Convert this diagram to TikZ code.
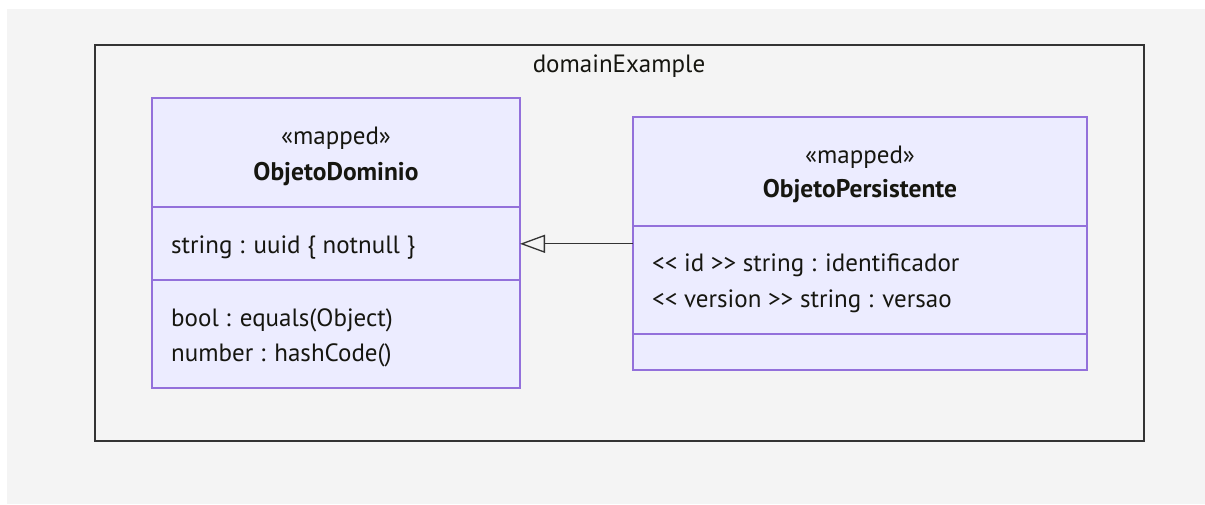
\documentclass[tikz,border=0pt]{standalone}
\usepackage{fontspec}
\setmainfont{PT Sans}
\usetikzlibrary{arrows.meta}
\definecolor{pagebg}{HTML}{F4F4F4}
\definecolor{classfill}{HTML}{ECECFF}
\definecolor{classline}{HTML}{9370DB}
\definecolor{ink}{HTML}{161610}
\definecolor{framecol}{HTML}{333333}
\tikzset{
  labelfont/.style={font=\fontsize{25}{30}\selectfont},
  compartment/.style={draw=classline, fill=classfill, line width=1.8pt,
    anchor=north west, inner sep=0pt, outer sep=0pt},
  member/.style={anchor=base west, inner sep=0pt, text=ink, labelfont},
  stereo/.style={anchor=base, inner sep=0pt, text=ink, labelfont},
  classname/.style={anchor=base, inner sep=0pt, text=ink,
    font=\fontsize{25.5}{30}\selectfont\bfseries},
  nsframe/.style={draw=framecol, line width=1.7pt, anchor=north west,
    inner sep=0pt, outer sep=0pt},
  nstitle/.style={anchor=base, inner sep=0pt, text=ink, labelfont},
  inherit/.style={draw=framecol, line width=1.1pt,
    -{Triangle[open, length=25pt, width=18pt, line width=1.3pt]}}
}
\begin{document}
\begin{tikzpicture}[x=1pt, y=-1pt]
\useasboundingbox (0,0) rectangle (1205,504);
\fill[white] (0,0) rectangle (1205,504);
\fill[pagebg] (7,9) rectangle (1205,504);

% namespace frame
\node[nsframe, minimum width=1049pt, minimum height=396pt] (ns) at (95,45) {};
\node[nstitle] (nstitle) at (619,72.5) {domainExample};

% class ObjetoDominio
\node[compartment, minimum width=368pt, minimum height=109.3pt] (d1head) at (152,98) {};
\node[compartment, minimum width=368pt, minimum height=73pt] (d1attr) at (152,207.3) {};
\node[compartment, minimum width=368pt, minimum height=107.7pt] (d1meth) at (152,280.3) {};
\node[stereo] (d1stereo) at (336,144.3) {«mapped»};
\node[classname] (d1name) at (336,180) {ObjetoDominio};
\node[member] (d1a1) at (171,253.3) {string : uuid \{ notnull \}};
\node[member] (d1m1) at (171,326) {bool : equals(Object)};
\node[member] (d1m2) at (171,361.7) {number : hashCode()};

% class ObjetoPersistente
\node[compartment, minimum width=454.6pt, minimum height=109.3pt] (p2head) at (632.7,116.7) {};
\node[compartment, minimum width=454.6pt, minimum height=108.3pt] (p2attr) at (632.7,226) {};
\node[compartment, minimum width=454.6pt, minimum height=35.7pt] (p2meth) at (632.7,334.3) {};
\node[stereo] (p2stereo) at (860,163.3) {«mapped»};
\node[classname] (p2name) at (860,197.7) {ObjetoPersistente};
\node[member] (p2a1) at (652,271.7) {<{}< id >{}> string : identificador};
\node[member] (p2a2) at (652,307.7) {<{}< version >{}> string : versao};

% generalisation
\draw[inherit] (p2head.west |- d1attr.east) -- (d1attr.east);
\end{tikzpicture}
\end{document}
